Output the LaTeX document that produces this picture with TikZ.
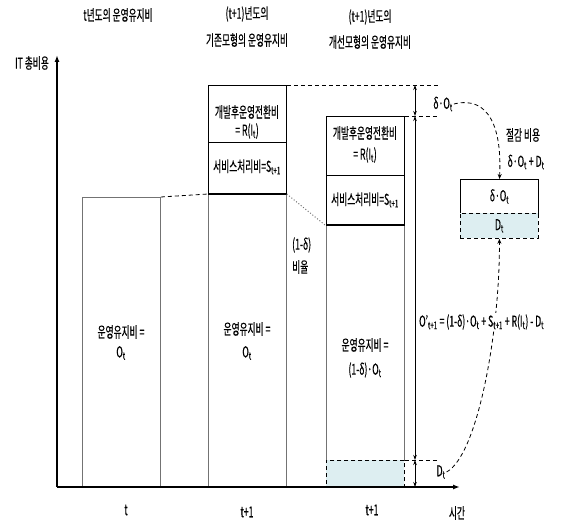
\documentclass[tikz,border=0pt]{standalone}
\usepackage{fontspec}
\setmainfont{Noto Sans CJK KR}[FakeStretch=0.58,FakeBold=0.4]
\usetikzlibrary{arrows.meta,calc}
\definecolor{paleblue}{RGB}{221,238,241}
\definecolor{barline}{gray}{0.45}
\newcommand\subx[1]{\textsubscript{#1}}

\begin{document}
\begin{tikzpicture}[x=1pt,y=-1pt,
  lbl/.style={font=\fontsize{15}{17}\selectfont, inner sep=1pt},
  barbox/.style={draw=barline, line width=0.8pt, anchor=north west, minimum width=78pt, inner sep=0pt},
  secbox/.style={draw=black, line width=0.8pt, anchor=north west, minimum width=78pt, inner sep=0pt},
  dimarrow/.style={{Stealth[length=5pt,width=3.5pt]}-{Stealth[length=5pt,width=3.5pt]}, line width=0.7pt},
  guide/.style={line width=0.8pt, dash pattern=on 4pt off 3pt},
]
\useasboundingbox (0,0) rectangle (573,524);

% column titles
\node[lbl] (t1) at (118,15) {t년도의 운영유지비};
\node[lbl] (t2a) at (247,14) {(t+1)년도의};
\node[lbl] (t2b) at (247,40) {기존모형의 운영유지비};
\node[lbl] (t3a) at (370,17) {(t+1)년도의};
\node[lbl] (t3b) at (370,42) {개선모형의 운영유지비};
\node[lbl] (ylab) at (32,63) {IT 총비용};

% year t
\node[barbox, minimum height=290pt] (b1) at (82,197) {};
\node[lbl] (b1a) at (121,332) {운영유지비 =};
\node[lbl] (b1b) at (121,353) {O\subx{t}};

% year t+1, base model
\node[secbox, minimum height=57pt] (r2) at (208,85) {};
\node[secbox, minimum height=52pt] (s2) at (208,142) {};
\node[barbox, minimum height=293pt] (o2) at (208,194) {};
\draw[line width=1.8pt] (o2.north west) -- (o2.north east);
\node[lbl] (r2a) at (247,112) {개발후운영전환비};
\node[lbl] (r2b) at (247,131) {= R(I\subx{t})};
\node[lbl] (s2a) at (247,167) {서비스처리비=S\subx{t+1}};
\node[lbl] (o2a) at (247,329) {운영유지비 =};
\node[lbl] (o2b) at (247,353) {O\subx{t}};

% year t+1, improved model
\node[secbox, minimum height=59pt] (r3) at (326,116) {};
\node[secbox, minimum height=50pt] (s3) at (326,175) {};
\node[barbox, minimum height=235pt] (o3) at (326,225) {};
\node[draw, guide, fill=paleblue, anchor=north west, minimum width=78pt, minimum height=27pt, inner sep=0pt] (d3) at (326,460) {};
\draw[line width=1.1pt] (o3.north west) -- (o3.north east);
\node[lbl] (r3a) at (365,133) {개발후운영전환비};
\node[lbl] (r3b) at (365,155) {= R(I\subx{t})};
\node[lbl] (s3a) at (365,200) {서비스처리비=S\subx{t+1}};
\node[lbl] (o3a) at (365,345) {운영유지비 =};
\node[lbl] (o3b) at (365,370) {(1-δ)·O\subx{t}};

% ratio note
\node[lbl, anchor=west] (ra) at (291,245) {(1-δ)};
\node[lbl, anchor=west] (rb) at (291,267) {비율};

% guide lines
\coordinate (topend) at (438,85);
\coordinate (midend) at (437,116);
\coordinate (dend) at (437,460);
\draw[guide] (r2.north east) -- (topend);
\draw[guide] (r3.north east) -- (midend);
\draw[guide] (d3.north east) -- (dend);
\draw[guide] (b1.north east) -- (o2.north west);
\draw[barline, dotted, line width=1pt] (o2.north east) -- (s3.south west);

% dimension arrows
\coordinate (a0) at (415,85);
\coordinate (a1) at (415,116);
\coordinate (a2) at (415,460);
\coordinate (a3) at (415,487);
\draw[dimarrow] (a0) -- (a1);
\draw[dimarrow] (a1) -- (a2);
\draw[dimarrow] (a2) -- (a3);

\node[lbl] (dO) at (443,104) {δ·O\subx{t}};
\node[lbl] (dD) at (441,472) {D\subx{t}};

% savings
\node[lbl] (cut) at (523,135) {절감 비용};
\node[lbl] (cutv) at (526,162) {δ·O\subx{t} + D\subx{t}};
\node[lbl, draw, line width=0.9pt, anchor=north west, minimum width=78pt, minimum height=34pt, inner sep=0pt] (sv1) at (460,179) {δ·O\subx{t}};
\node[lbl, draw, guide, fill=paleblue, anchor=north west, minimum width=78pt, minimum height=25pt, inner sep=0pt] (sv2) at (460,213) {D\subx{t}};

\draw[guide, -{Stealth[length=5pt,width=4pt]}] (dO.east) .. controls (490,95) and (502,130) .. (sv1.north);
\draw[guide, -{Stealth[length=5pt,width=4pt]}] (dD.east) .. controls (478,455) and (500,330) .. (sv2.south);

\node[lbl, fill=white, anchor=west] (eq) at (418,322) {O'\subx{t+1} = (1-δ)·O\subx{t} + S\subx{t+1} + R(I\subx{t}) - D\subx{t}};

% axes
\coordinate (origin) at (57,487);
\coordinate (ytip) at (57,55);
\coordinate (xtip) at (460,487);
\draw[line width=1.6pt, -{Latex[length=7pt,width=5pt]}] (origin) -- (ytip);
\draw[line width=2.2pt, -{Latex[length=7pt,width=5pt]}] (origin) -- (xtip);

\node[lbl] (xt) at (126,510) {t};
\node[lbl] (xt2) at (247,512) {t+1};
\node[lbl] (xt3) at (372,510) {t+1};
\node[lbl] (xtime) at (457,513) {시간};
\end{tikzpicture}
\end{document}
